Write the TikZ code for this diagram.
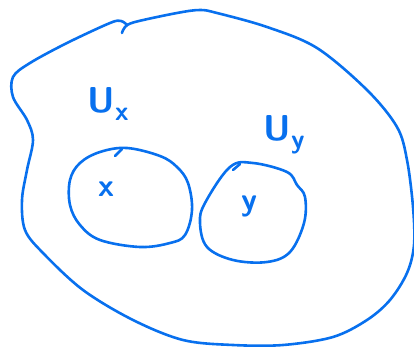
\documentclass[tikz,border=0pt]{standalone}
\usepackage{fontspec}
\usepackage{tikz}

\definecolor{pen}{RGB}{8,112,238}

\tikzset{
  stroke/.style={pen, line width=2.6pt, line cap=round, line join=round},
  hand/.style={pen, font=\sffamily\bfseries\fontsize{36}{40}\selectfont, inner sep=0pt},
  handsmall/.style={pen, font=\sffamily\bfseries\fontsize{32}{36}\selectfont, inner sep=0pt}
}
\newcommand{\handsub}[1]{{\fontsize{27}{30}\selectfont\raisebox{-0.28em}{#1}}}

\begin{document}
\begin{tikzpicture}[x=1pt,y=-1pt]

\useasboundingbox (0,0) rectangle (414,347);

% outer set
\draw[stroke] plot [smooth, tension=0.55] coordinates { (122,33) (125,27) (135,22) (177,13) (200,10) (217,13) (267,27) (317,48) (367,90) (397,127) (407,160) (413,207) (414,245) (407,273) (390,300) (367,320) (333,337) (283,345) (233,345) (183,340) (133,320) (83,290) (43,253) (25,230) (22,200) (27,170) (33,140) (27,120) (13,97) (13,77) (30,63) (67,43) (110,23) (121,21) (127,25) };

% neighbourhood of x
\draw[stroke] plot [smooth cycle, tension=0.6] coordinates { (127,148) (160,156) (177,167) (188,183) (192,210) (185,235) (170,243) (140,247) (100,240) (80,225) (70,205) (70,180) (80,163) (100,152) };
\draw[stroke] (115,156) -- (122,149);

% neighbourhood of y
\draw[stroke] plot [smooth cycle, tension=0.6] coordinates { (253,163) (287,172) (297,185) (305,197) (304,223) (290,252) (267,262) (233,260) (207,247) (200,223) (205,203) (230,167) };
\draw[stroke] (233,170) -- (240,164);

% labels
\node[hand] (Ux) at (108,104) {U\handsub{x}};
\node[hand] (Uy) at (284,135) {U\handsub{y}};
\node[handsmall] (x) at (106,189) {x};
\node[handsmall] (y) at (249,206) {y};

\end{tikzpicture}
\end{document}
